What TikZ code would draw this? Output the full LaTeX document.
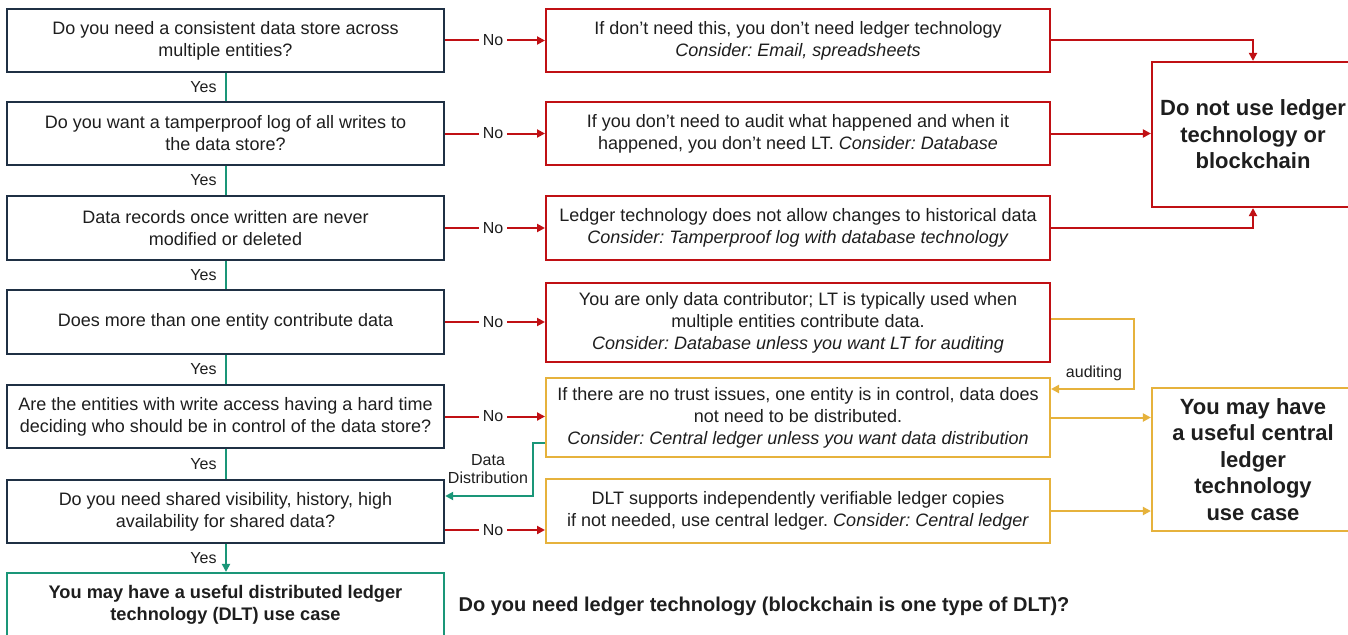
\documentclass[tikz,border=0pt]{standalone}
\usepackage{fontspec}
\setmainfont{Liberation Sans}
\usetikzlibrary{arrows.meta}
\definecolor{navy}{RGB}{31,48,68}
\definecolor{lred}{RGB}{192,16,20}
\definecolor{lyel}{RGB}{230,178,60}
\definecolor{lgrn}{RGB}{26,150,120}
\definecolor{txt}{RGB}{30,30,30}
\frenchspacing
\begin{document}
\begin{tikzpicture}[x=1pt,y=-1pt,
  box/.style={draw, line width=2.2pt, align=center, inner sep=0pt, text=txt,
    font=\fontsize{18}{22}\selectfont},
  qbox/.style={box, draw=navy, line width=2.4pt, minimum width=437pt, minimum height=63pt},
  mred/.style={box, draw=lred, line width=2pt, minimum width=504pt},
  myel/.style={box, draw=lyel, line width=2pt, minimum width=504pt},
  rbox/.style={box, line width=2.2pt, minimum width=202pt, font=\bfseries\fontsize{22}{26.5}\selectfont},
  lbl/.style={font=\fontsize{16}{18}\selectfont, text=txt, inner sep=1.5pt},
  tip/.style={-{Triangle[length=8pt,width=8pt]}},
  rline/.style={draw=lred, line width=2pt},
  yline/.style={draw=lyel, line width=2pt},
  gline/.style={draw=lgrn, line width=2pt},
  nolbl/.style={lbl, fill=white, inner xsep=4pt, pos=0.48},
  yeslbl/.style={lbl, midway, left=7pt}
]
\clip (0,0) rectangle (1348,634);
\fill[white] (0,0) rectangle (1348,634);

% left column questions
\node[qbox] (q1) at (225.5,40.5) {Do you need a consistent data store across\\multiple entities?};
\node[qbox] (q2) at (225.5,133.5) {Do you want a tamperproof log of all writes to\\the data store?};
\node[qbox, minimum height=64pt] (q3) at (225.5,228) {Data records once written are never\\modified or deleted};
\node[qbox, minimum height=64pt] (q4) at (225.5,322) {Does more than one entity contribute data};
\node[qbox] (q5) at (225.5,416.5) {Are the entities with write access having a hard time\\deciding who should be in control of the data store?};
\node[qbox] (q6) at (225.5,511.5) {Do you need shared visibility, history, high\\availability for shared data?};
\node[qbox, draw=lgrn, line width=2.2pt, minimum height=64pt, font=\bfseries\fontsize{18.2}{22}\selectfont] (q7) at (225.5,605) {You may have a useful distributed ledger\\technology (DLT) use case};

% middle column
\node[mred, minimum height=63pt] (m1) at (798,40.5) {If don’t need this, you don’t need ledger technology\\\textit{Consider: Email, spreadsheets}};
\node[mred, minimum height=63pt] (m2) at (798,133.5) {If you don’t need to audit what happened and when it\\happened, you don’t need LT. \textit{Consider: Database}};
\node[mred, minimum height=64pt] (m3) at (798,228) {Ledger technology does not allow changes to historical data\\\textit{Consider: Tamperproof log with database technology}};
\node[mred, minimum height=79pt] (m4) at (798,322.5) {You are only data contributor; LT is typically used when\\multiple entities contribute data.\\\textit{Consider: Database unless you want LT for auditing}};
\node[myel, minimum height=79pt] (m5) at (798,417.5) {If there are no trust issues, one entity is in control, data does\\not need to be distributed.\\\textit{Consider: Central ledger unless you want data distribution}};
\node[myel, minimum height=64pt] (m6) at (798,511) {DLT supports independently verifiable ledger copies\\if not needed, use central ledger. \textit{Consider: Central ledger}};

% right column
\node[rbox, draw=lred, minimum height=145pt] (r1) at (1253,134.5) {Do not use ledger\\technology or\\blockchain};
\node[rbox, draw=lyel, minimum height=143pt] (r2) at (1253,459.5) {You may have\\a useful central\\ledger\\technology\\use case};

% bottom title
\node[font=\bfseries\fontsize{20}{22}\selectfont, text=txt, inner sep=0pt] (title) at (764,606) {Do you need ledger technology (blockchain is one type of DLT)?};

% Yes connectors
\draw[gline] (q1.south -| 226,0) -- (q2.north -| 226,0) node[yeslbl] {Yes};
\draw[gline] (q2.south -| 226,0) -- (q3.north -| 226,0) node[yeslbl] {Yes};
\draw[gline] (q3.south -| 226,0) -- (q4.north -| 226,0) node[yeslbl] {Yes};
\draw[gline] (q4.south -| 226,0) -- (q5.north -| 226,0) node[yeslbl] {Yes};
\draw[gline] (q5.south -| 226,0) -- (q6.north -| 226,0) node[yeslbl] {Yes};
\draw[gline, tip] (q6.south -| 226,0) -- (q7.north -| 226,0) node[yeslbl] {Yes};

% No connectors
\draw[rline, tip] (q1.east) -- (m1.west) node[nolbl] {No};
\draw[rline, tip] (q2.east) -- (m2.west) node[nolbl] {No};
\draw[rline, tip] (q3.east) -- (m3.west) node[nolbl] {No};
\draw[rline, tip] (q4.east) -- (q4.east -| m4.west) node[nolbl] {No};
\draw[rline, tip] (q5.east) -- (q5.east -| m5.west) node[nolbl] {No};
\draw[rline, tip] (q6.east |- 0,530) -- (m6.west |- 0,530) node[nolbl] {No};

% to "do not use"
\draw[rline, tip] (m1.east) -| (r1.north);
\draw[rline, tip] (m2.east) -- (m2.east -| r1.west);
\draw[rline, tip] (m3.east) -| (r1.south);

% auditing loop
\coordinate (aud) at (1134,389);
\draw[yline, tip] (m4.east |- 0,319) -| (aud) -- (m5.east |- aud);
\node[lbl] (audl) at (1094,373) {auditing};

% to central ledger
\draw[yline, tip] (m5.east) -- (m5.east -| r2.west);
\draw[yline, tip] (m6.east) -- (m6.east -| r2.west);

% data distribution
\coordinate (dd) at (533,443);
\draw[gline, tip] (m5.west |- dd) -- (dd) |- (q6.east |- 0,496);
\node[lbl, align=center] (ddl) at (488,469) {Data\\Distribution};
\end{tikzpicture}
\end{document}
